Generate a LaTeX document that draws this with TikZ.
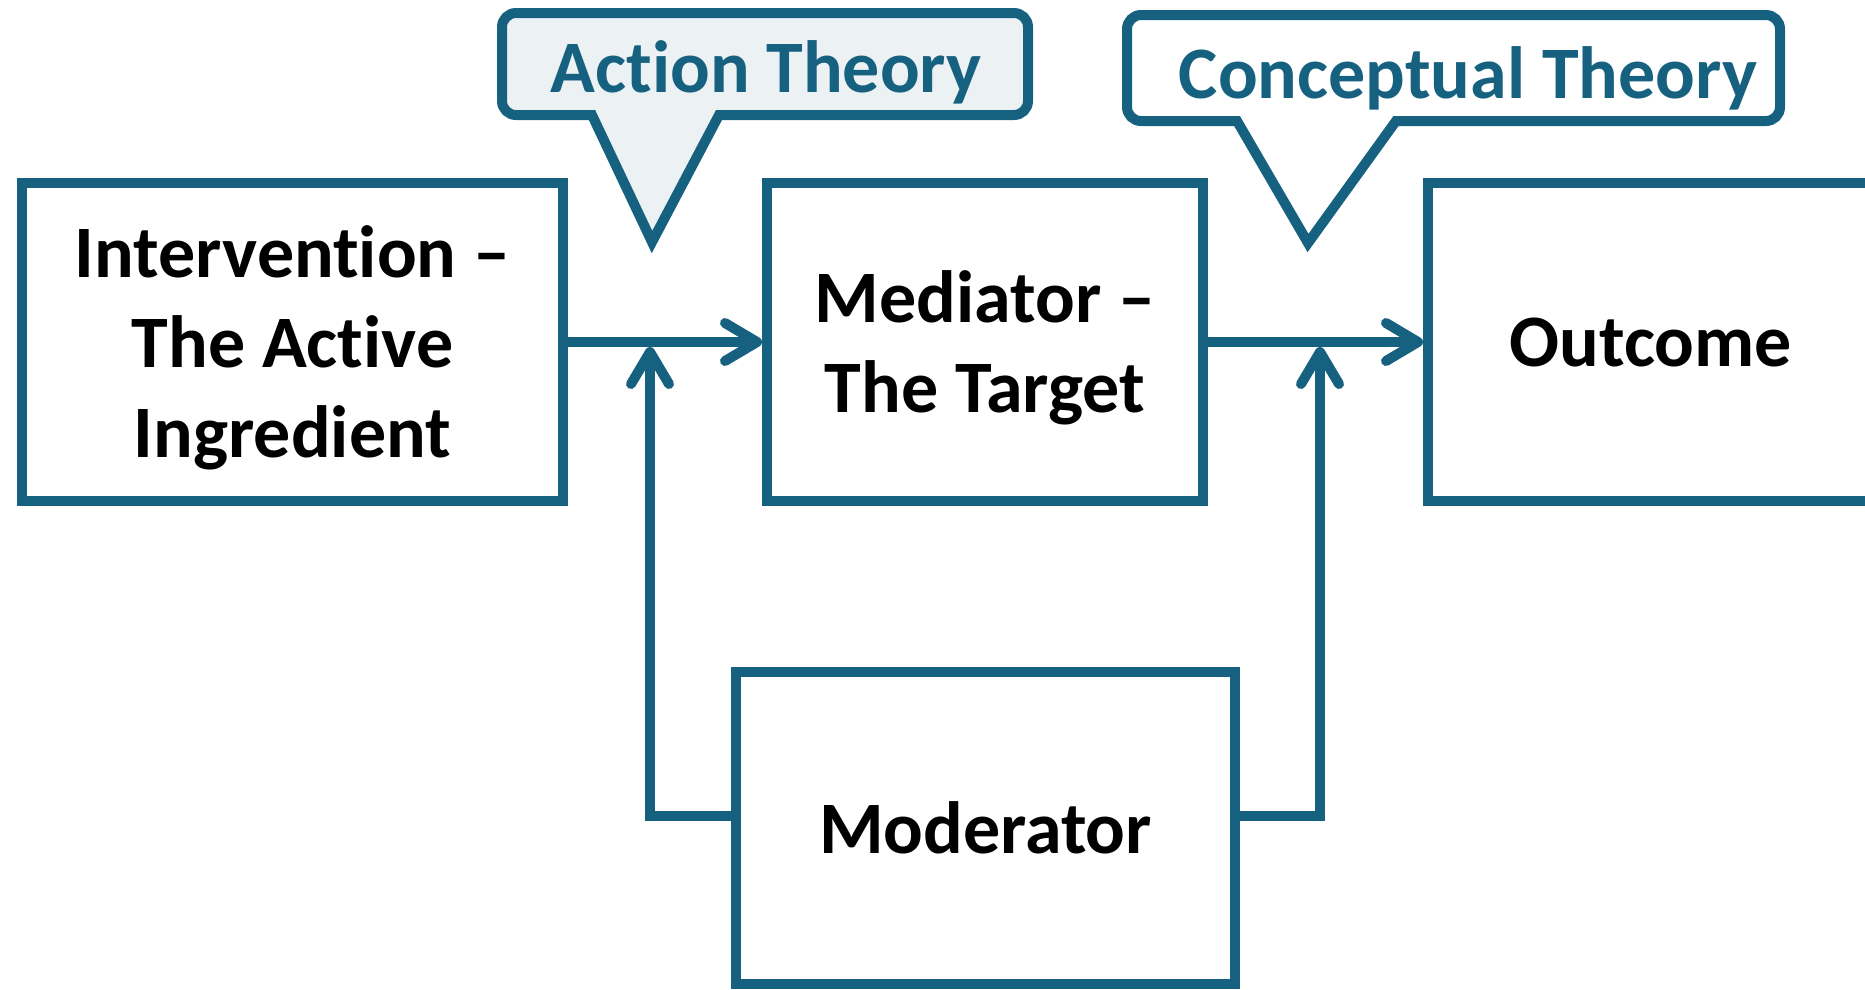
\documentclass[tikz,border=0pt]{standalone}
\usepackage{fontspec}
\setmainfont{Carlito}[Ligatures={TeX,NoCommon}]
\usetikzlibrary{arrows.meta}
\definecolor{tealline}{RGB}{23,97,128}
\definecolor{bubblefill}{RGB}{236,241,244}
\tikzstyle{block}=[rectangle,draw=tealline,fill=white,align=center,text depth=0pt,font=\bfseries\fontsize{74}{90}\selectfont]
\tikzstyle{bubble}=[draw=tealline,line join=miter]
\tikzstyle{bubbletext}=[anchor=base,text=tealline,inner sep=0pt,font=\bfseries\fontsize{74}{90}\selectfont]
\tikzstyle{arrow}=[draw=tealline,-{Straight Barb[length=32pt,width=38pt,round]}]
\tikzset{every picture/.style={
    line width=10pt
  }
}

\begin{document}
\begin{tikzpicture}[x=1pt,y=-1pt]
      \clip (0,0) rectangle (1865,989);
      % speech bubbles
      \draw[bubble,fill=bubblefill] (765,13) [rounded corners=14pt] -- (1028,13) -- (1028,115) -- (800,115) [sharp corners] -- (719,115) -- (652,242) -- (592,115) -- (550,115) [rounded corners=14pt] -- (502,115) -- (502,13) -- cycle;
      \node[bubbletext] at (766,92) (act) {Action Theory};
      \draw[bubble,fill=white] (1450,15) [rounded corners=14pt] -- (1780,15) -- (1780,121) -- (1480,121) [sharp corners] -- (1396,121) -- (1308,243) -- (1237,121) -- (1190,121) [rounded corners=14pt] -- (1127,121) -- (1127,15) -- cycle;
      \node[bubbletext] at (1468,98) (con) {Conceptual Theory};
      % boxes
      \node[block,minimum width=541pt,minimum height=318pt] at (292.5,342) (int) {Intervention –\\The Active\\Ingredient};
      \node[block,minimum width=436pt,minimum height=318pt] at (985,342) (med) {Mediator –\\The Target};
      \node[block,minimum width=446pt,minimum height=318pt] at (1651,342) (out) {Outcome};
      \node[block,minimum width=499pt,minimum height=312pt] at (985.5,828) (mod) {Moderator};
      \coordinate (actj) at (650,347);
      \coordinate (conj) at (1320,347);
      % connectors
      \draw[arrow] (int.east) -- (med.west);
      \draw[arrow] (med.east) -- (out.west);
      \draw[arrow] ([yshift=12pt]mod.west) -| (actj);
      \draw[arrow] ([yshift=12pt]mod.east) -| (conj);
\end{tikzpicture}
\end{document}
